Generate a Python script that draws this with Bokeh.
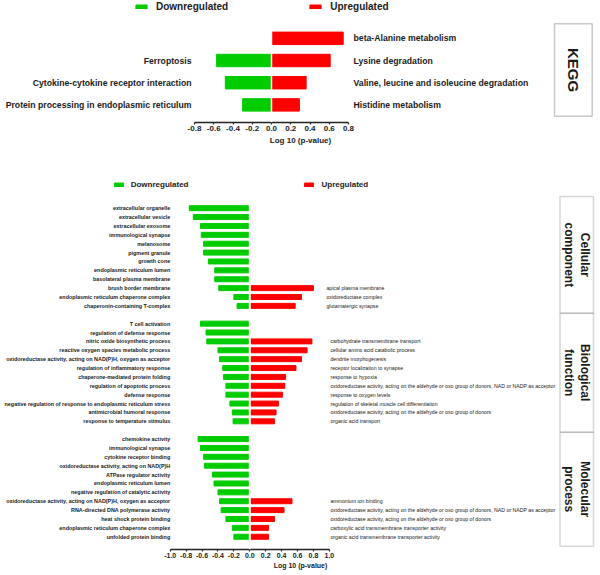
import math
from bokeh.plotting import figure
from bokeh.models import (ColumnDataSource, Range1d, LinearAxis, FixedTicker, Span,
                          BoxAnnotation, Label, Legend, LegendItem, PrintfTickFormatter)
from bokeh.layouts import column
from bokeh.embed import file_html
from bokeh.resources import INLINE
from bokeh.core.properties import value

# ---------------- data ----------------
kegg_down_terms = ["Ferroptosis",
                   "Cytokine-cytokine receptor interaction",
                   "Protein processing in endoplasmic reticulum"]
kegg_down_vals = [-0.57, -0.48, -0.30]
kegg_up_terms = ["beta-Alanine metabolism",
                 "Lysine degradation",
                 "Valine, leucine and isoleucine degradation",
                 "Histidine metabolism"]
kegg_up_vals = [0.745, 0.61, 0.36, 0.29]
kegg_ticks = [-0.8, -0.6, -0.4, -0.2, 0.0, 0.2, 0.4, 0.6, 0.8]

cc_down_terms = ["extracellular organelle", "extracellular vesicle", "extracellular exosome",
                 "immunological synapse", "melanosome", "pigment granule", "growth cone",
                 "endoplasmic reticulum lumen", "basolateral plasma membrane",
                 "brush border membrane", "endoplasmic reticulum chaperone complex",
                 "chaperonin-containing T-complex"]
cc_down_vals = [-0.76, -0.71, -0.62, -0.61, -0.58, -0.58, -0.52, -0.44, -0.44, -0.39, -0.20, -0.16]
cc_up_terms = ["apical plasma membrane", "oxidoreductase complex", "glutamatergic synapse"]
cc_up_vals = [0.80, 0.65, 0.57]

bf_down_terms = ["T cell activation", "regulation of defense response",
                 "nitric oxide biosynthetic process", "reactive oxygen species metabolic process",
                 "oxidoreductase activity, acting on NAD(P)H, oxygen as acceptor",
                 "regulation of inflammatory response", "chaperone-mediated protein folding",
                 "regulation of apoptotic process", "defense response",
                 "negative regulation of response to endoplasmic reticulum stress",
                 "antimicrobial humoral response", "response to temperature stimulus"]
bf_down_vals = [-0.62, -0.55, -0.54, -0.40, -0.38, -0.34, -0.33, -0.30, -0.30, -0.25, -0.22, -0.21]
bf_up_terms = ["carbohydrate transmembrane transport", "cellular amino acid catabolic process",
               "dendrite morphogenesis", "receptor localization to synapse", "response to hypoxia",
               "oxidoreductase activity, acting on the aldehyde or oxo group of donors, NAD or NADP as acceptor",
               "response to oxygen levels", "regulation of skeletal muscle cell differentiation",
               "oxidoreductase activity, acting on the aldehyde or oxo group of donors",
               "organic acid transport"]
bf_up_vals = [0.78, 0.72, 0.65, 0.58, 0.45, 0.44, 0.41, 0.36, 0.33, 0.31]

mf_down_terms = ["chemokine activity", "immunological synapse", "cytokine receptor binding",
                 "oxidoreductase activity, acting on NAD(P)H", "ATPase regulator activity",
                 "endoplasmic reticulum lumen", "negative regulation of catalytic activity",
                 "oxidoreductase activity, acting on NAD(P)H, oxygen as acceptor",
                 "RNA-directed DNA polymerase activity", "heat shock protein binding",
                 "endoplasmic reticulum chaperone complex", "unfolded protein binding"]
mf_down_vals = [-0.65, -0.62, -0.58, -0.57, -0.47, -0.45, -0.40, -0.38, -0.36, -0.30, -0.22, -0.20]
mf_up_terms = ["ammonium ion binding",
               "oxidoreductase activity, acting on the aldehyde or oxo group of donors, NAD or NADP as acceptor",
               "oxidoreductase activity, acting on the aldehyde or oxo group of donors",
               "carboxylic acid transmembrane transporter activity",
               "organic acid transmembrane transporter activity"]
mf_up_vals = [0.53, 0.43, 0.31, 0.235, 0.235]

go_sections = ["Cellular\ncomponent", "Biological\nfunction", "Molecular\nprocess"]
go_ticks = [-1.0, -0.8, -0.6, -0.4, -0.2, 0.0, 0.2, 0.4, 0.6, 0.8, 1.0]

# ---------------- style ----------------
GREEN = "#00CC00"
RED = "#FF0000"
INK = "#1a1a1a"
FONT = "Liberation Sans"
W = 600


def make_fig(height, border_bottom, x0_px, ppu, y0_px, ppr):
    frame_h = height - border_bottom
    p = figure(width=W, height=height, output_backend="svg", toolbar_location=None,
               x_range=Range1d(-x0_px / ppu, (W - x0_px) / ppu),
               y_range=Range1d((frame_h - y0_px) / ppr, -y0_px / ppr),
               x_axis_location=None, y_axis_location=None,
               min_border_left=0, min_border_right=0, min_border_top=0,
               min_border_bottom=border_bottom)
    p.outline_line_color = None
    p.grid.visible = False
    return p


def add_axis(p, ticks, font_px, tick_out, standoff, label_standoff):
    ax = LinearAxis(bounds=(ticks[0], ticks[-1]), ticker=FixedTicker(ticks=ticks),
                    formatter=PrintfTickFormatter(format="%.1f"),
                    axis_label="Log 10 (p-value)")
    ax.axis_line_color = "#222222"
    ax.axis_line_width = 1.3
    ax.major_tick_line_color = "#222222"
    ax.major_tick_line_width = 1.2
    ax.major_tick_in = 0
    ax.major_tick_out = tick_out
    ax.minor_tick_line_color = None
    ax.major_label_text_font = FONT
    ax.major_label_text_font_size = font_px
    ax.major_label_text_font_style = "bold"
    ax.major_label_text_color = INK
    ax.major_label_standoff = standoff
    ax.axis_label_text_font = FONT
    ax.axis_label_text_font_size = font_px
    ax.axis_label_text_font_style = "bold"
    ax.axis_label_text_color = INK
    ax.axis_label_standoff = label_standoff
    p.add_layout(ax, "below")


# ================= top panel: KEGG =================
TOP_H = 150
TOP_BORDER = 28
T_X0, T_PPU, T_Y0, T_PPR = 271.0, 96.25, 37.8, 22.2
top = make_fig(TOP_H, TOP_BORDER, T_X0, T_PPU, T_Y0, T_PPR)


def tx(page_x):
    return (page_x - T_X0) / T_PPU


def ty(page_y):
    return (page_y - T_Y0) / T_PPR


n_k = len(kegg_up_terms)
k_down = ColumnDataSource(dict(row=list(range(n_k - len(kegg_down_terms), n_k)),
                               val=kegg_down_vals, term=kegg_down_terms))
k_up = ColumnDataSource(dict(row=list(range(n_k)), val=kegg_up_vals, term=kegg_up_terms))

r_kd = top.hbar(y="row", left="val", right=0, height=0.56, source=k_down,
                fill_color=GREEN, line_color=GREEN)
r_ku = top.hbar(y="row", left=0, right="val", height=0.56, source=k_up,
                fill_color=RED, line_color=RED)
top.add_layout(Span(location=0, dimension="height", line_color="white", line_width=1.5))

top.text(x=kegg_ticks[0], y="row", text="term", source=k_down, x_offset=-3,
         text_align="right", text_baseline="middle", text_font=value(FONT),
         text_font_size=value("8.7px"), text_font_style="bold", text_color=INK)
top.text(x=kegg_ticks[-1], y="row", text="term", source=k_up, x_offset=5,
         text_align="left", text_baseline="middle", text_font=value(FONT),
         text_font_size=value("8.7px"), text_font_style="bold", text_color=INK)

add_axis(top, kegg_ticks, "8px", 2, 1, 2)

top.add_layout(Legend(items=[LegendItem(label="Downregulated", renderers=[r_kd]),
                             LegendItem(label="Upregulated", renderers=[r_ku])],
                      location=(134, (TOP_H - TOP_BORDER) - 12), orientation="horizontal",
                      spacing=80, padding=0, margin=0, glyph_width=14, glyph_height=5,
                      label_standoff=8, label_height=10, label_width=10,
                      label_text_font=FONT, label_text_font_size="10px",
                      label_text_font_style="bold", label_text_color=INK,
                      border_line_color=None, background_fill_alpha=0))

top.add_layout(BoxAnnotation(left=tx(554), right=tx(591.7), top=ty(23.3), bottom=ty(115.7),
                             fill_alpha=0, line_color="#4d4d4d", line_width=1.5))
top.add_layout(Label(x=tx(572.9), y=ty(69.5), text="KEGG", angle=-math.pi / 2,
                     text_align="center", text_baseline="middle", text_font=FONT,
                     text_font_size="15px", text_font_style="bold", text_color=INK))

# ================= bottom panel: GO =================
BOT_TOP = TOP_H
BOT_H = 575 - TOP_H
BOT_BORDER = 26
B_X0, B_PPU, B_Y0, B_PPR = 249.3, 79.6, 207.7 - BOT_TOP, 8.88
bot = make_fig(BOT_H, BOT_BORDER, B_X0, B_PPU, B_Y0, B_PPR)


def bx(page_x):
    return (page_x - B_X0) / B_PPU


def by(page_y):
    return (page_y - BOT_TOP - B_Y0) / B_PPR


sections = [(cc_down_terms, cc_down_vals, cc_up_terms, cc_up_vals, -3),
            (bf_down_terms, bf_down_vals, bf_up_terms, bf_up_vals, 1),
            (mf_down_terms, mf_down_vals, mf_up_terms, mf_up_vals, 1)]
down = dict(row=[], val=[], term=[])
ups = []
for k, (dt, dv, ut, uv, off) in enumerate(sections):
    base = k * 13
    n = len(dt)
    down["row"] += [base + i for i in range(n)]
    down["val"] += dv
    down["term"] += dt
    ups.append((dict(row=[base + n - len(ut) + i for i in range(len(ut))], val=uv, term=ut), off))

g_down = ColumnDataSource(down)
g_up_all = ColumnDataSource(dict(row=sum([u[0]["row"] for u in ups], []),
                                 val=sum([u[0]["val"] for u in ups], []),
                                 term=sum([u[0]["term"] for u in ups], [])))

r_gd = bot.hbar(y="row", left="val", right=0, height=0.56, source=g_down,
                fill_color=GREEN, line_color=GREEN)
r_gu = bot.hbar(y="row", left=0, right="val", height=0.56, source=g_up_all,
                fill_color=RED, line_color=RED)
bot.add_layout(Span(location=0, dimension="height", line_color="white", line_width=2))

bot.text(x=go_ticks[0], y="row", text="term", source=g_down,
         text_align="right", text_baseline="middle", text_font=value(FONT),
         text_font_size=value("5.4px"), text_font_style="bold", text_color=INK)
for u, off in ups:
    bot.text(x=go_ticks[-1], y="row", text="term", source=ColumnDataSource(u), x_offset=off,
             text_align="left", text_baseline="middle", text_font=value(FONT),
             text_font_size=value("5.2px"), text_font_style="normal", text_color=INK)

add_axis(bot, go_ticks, "7px", 2, 1, 1)

bot.add_layout(Legend(items=[LegendItem(label="Downregulated", renderers=[r_gd]),
                             LegendItem(label="Upregulated", renderers=[r_gu])],
                      location=(112.7, (BOT_H - BOT_BORDER) - 39), orientation="horizontal",
                      spacing=115, padding=0, margin=0, glyph_width=11, glyph_height=5,
                      label_standoff=7, label_height=10, label_width=10,
                      label_text_font=FONT, label_text_font_size="8px",
                      label_text_font_style="bold", label_text_color=INK,
                      border_line_color=None, background_fill_alpha=0))

edges = [196.0, 312.7, 431.7, 545.7]
for k, name in enumerate(go_sections):
    bot.add_layout(BoxAnnotation(left=bx(559.5), right=bx(593), top=by(edges[k]),
                                 bottom=by(edges[k + 1]), fill_alpha=0,
                                 line_color="#7a7a7a", line_width=1.5))
    bot.add_layout(Label(x=bx(576.5), y=by((edges[k] + edges[k + 1]) / 2), text=name,
                         angle=-math.pi / 2, text_align="center", text_baseline="middle",
                         text_font=FONT, text_font_size="12px", text_font_style="bold",
                         text_line_height=1.1, text_color=INK))

layout = column(top, bot, spacing=0)
open("out.html", "w").write(file_html(layout, INLINE))
